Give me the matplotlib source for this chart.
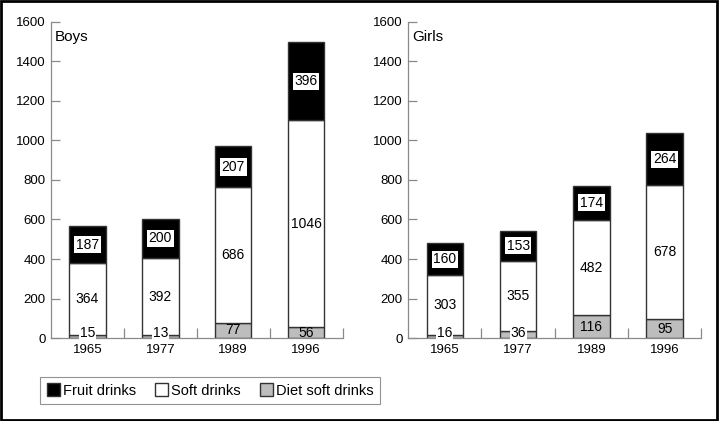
import numpy as np
import matplotlib.pyplot as plt
from matplotlib.patches import Patch, Rectangle

plt.rcParams['font.family'] = ['Liberation Sans', 'DejaVu Sans']

years = ['1965', '1977', '1989', '1996']
boys_diet = [15, 13, 77, 56]
boys_soft = [364, 392, 686, 1046]
boys_fruit = [187, 200, 207, 396]
girls_diet = [16, 36, 116, 95]
girls_soft = [303, 355, 482, 678]
girls_fruit = [160, 153, 174, 264]

gray = '#bdbdbd'
edge = '#333333'
spine = '#8a8a8a'


def draw_panel(ax, diet, soft, fruit, title):
    x = np.arange(len(years))
    diet = np.array(diet)
    soft = np.array(soft)
    fruit = np.array(fruit)
    w = 0.5
    ax.bar(x, diet, w, color=gray, edgecolor=edge, linewidth=1)
    ax.bar(x, soft, w, bottom=diet, color='white', edgecolor=edge, linewidth=1)
    ax.bar(x, fruit, w, bottom=diet + soft, color='black', edgecolor=edge, linewidth=1)

    for i in range(len(x)):
        # diet labels: small ones get a white box over the bar
        if diet[i] < 50:
            ax.text(x[i], 25, str(diet[i]), ha='center', va='center', fontsize=10,
                    bbox=dict(facecolor='white', edgecolor='none', pad=0.5))
        else:
            ax.text(x[i], diet[i] / 2, str(diet[i]), ha='center', va='center', fontsize=10)
        ax.text(x[i], diet[i] + soft[i] / 2, str(soft[i]), ha='center', va='center', fontsize=10)
        ax.text(x[i], diet[i] + soft[i] + fruit[i] / 2, str(fruit[i]), ha='center', va='center',
                fontsize=10, bbox=dict(facecolor='white', edgecolor='none', pad=1.2))

    ax.set_xlim(-0.5, 3.5)
    ax.set_ylim(0, 1600)
    ax.set_yticks(range(0, 1601, 200))
    ax.set_xticks(x)
    ax.set_xticklabels(years)
    ax.set_xticks([0.5, 1.5, 2.5, 3.5], minor=True)
    ax.tick_params(axis='x', which='major', length=0, pad=4, labelsize=9.5)
    ax.tick_params(axis='x', which='minor', direction='in', length=7, color=spine, width=0.9)
    ax.tick_params(axis='y', direction='in', length=6.5, color=spine, width=0.9, pad=4, labelsize=9.5)
    for s in ['top', 'right']:
        ax.spines[s].set_visible(False)
    for s in ['left', 'bottom']:
        ax.spines[s].set_color(spine)
        ax.spines[s].set_linewidth(0.9)
    ax.text(0.012, 0.975, title, transform=ax.transAxes, ha='left', va='top', fontsize=11)


fig = plt.figure(figsize=(7.2, 4.21), dpi=100)
ax1 = fig.add_axes([0.0708, 0.197, 0.405, 0.751])
ax2 = fig.add_axes([0.567, 0.197, 0.407, 0.751])
draw_panel(ax1, boys_diet, boys_soft, boys_fruit, 'Boys')
draw_panel(ax2, girls_diet, girls_soft, girls_fruit, 'Girls')

handles = [Patch(facecolor='black', edgecolor=edge, label='Fruit drinks'),
           Patch(facecolor='white', edgecolor=edge, label='Soft drinks'),
           Patch(facecolor=gray, edgecolor=edge, label='Diet soft drinks')]
leg = fig.legend(handles=handles, loc='center', bbox_to_anchor=(0.292, 0.0725), ncol=3,
                 fontsize=10.5, frameon=True, fancybox=False, handlelength=0.9, handleheight=0.9,
                 handletextpad=0.2, columnspacing=1.3, borderpad=0.45)
leg.get_frame().set_edgecolor('#777777')
leg.get_frame().set_linewidth(0.8)

# outer frame around the whole figure
fig.patches.append(Rectangle((0.002, 0.003), 0.994, 0.994, transform=fig.transFigure,
                             fill=False, edgecolor='black', linewidth=2))

fig.savefig('out.png', dpi=100)
